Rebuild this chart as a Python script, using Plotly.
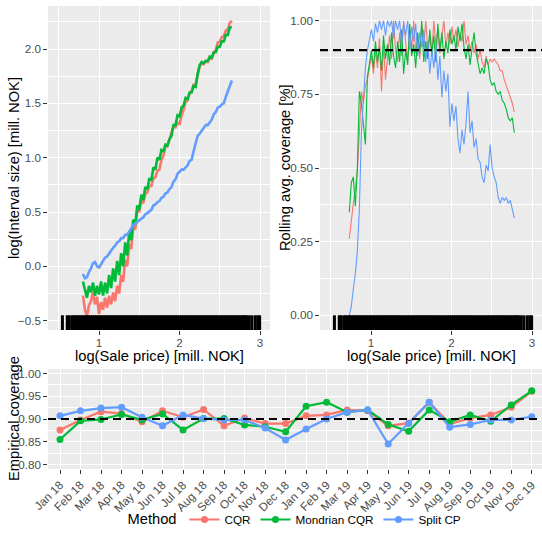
import plotly.graph_objects as go

W, H = 542, 535
FONT = "Liberation Sans, Arial, sans-serif"
METHODS = ["CQR", "Mondrian CQR", "Split CP"]
COLORS = {"CQR": "#F8766D", "Mondrian CQR": "#00BA38", "Split CP": "#619CFF"}
TARGET = 0.9

# ---- Top-left: log(interval size) vs log(sale price)
size_x = [0.800, 0.825, 0.850, 0.875, 0.900, 0.925, 0.950, 0.975, 1.000, 1.025,
          1.050, 1.075, 1.100, 1.125, 1.150, 1.175, 1.200, 1.225, 1.250, 1.275,
          1.300, 1.325, 1.350, 1.375, 1.400, 1.425, 1.450, 1.475, 1.500, 1.525,
          1.550, 1.575, 1.600, 1.625, 1.650, 1.675, 1.700, 1.725, 1.750, 1.775,
          1.800, 1.825, 1.850, 1.875, 1.900, 1.925, 1.950, 1.975, 2.000, 2.025,
          2.050, 2.075, 2.100, 2.125, 2.150, 2.175, 2.200, 2.225, 2.250, 2.275,
          2.300, 2.325, 2.350, 2.375, 2.400, 2.425, 2.450, 2.475, 2.500, 2.525,
          2.550, 2.575, 2.600, 2.625, 2.650]
size_cqr = [-0.27, -0.40, -0.46, -0.36, -0.32, -0.24, -0.35, -0.28, -0.44, -0.33,
            -0.40, -0.29, -0.38, -0.27, -0.35, -0.24, -0.32, -0.18, -0.25, -0.08,
            -0.14, 0.06, 0.00, 0.20, 0.16, 0.36, 0.34, 0.52, 0.50, 0.61,
            0.58, 0.67, 0.68, 0.74, 0.74, 0.81, 0.82, 0.88, 0.89, 0.98,
            1.02, 1.10, 1.11, 1.18, 1.23, 1.29, 1.28, 1.32, 1.31, 1.39,
            1.44, 1.51, 1.53, 1.59, 1.61, 1.67, 1.67, 1.76, 1.84, 1.87,
            1.86, 1.89, 1.88, 1.91, 1.91, 1.96, 1.99, 2.06, 2.07, 2.11,
            2.12, 2.17, 2.18, 2.24, 2.26]
size_mcqr = [-0.14, -0.22, -0.29, -0.18, -0.24, -0.15, -0.27, -0.18, -0.26, -0.14,
             -0.27, -0.15, -0.25, -0.08, -0.20, -0.02, -0.14, 0.05, -0.08, 0.12,
             0.00, 0.22, 0.10, 0.32, 0.24, 0.43, 0.38, 0.56, 0.52, 0.66,
             0.61, 0.73, 0.71, 0.81, 0.79, 0.91, 0.89, 1.00, 0.98, 1.07,
             1.06, 1.12, 1.11, 1.17, 1.20, 1.30, 1.30, 1.39, 1.38, 1.46,
             1.48, 1.55, 1.54, 1.60, 1.60, 1.66, 1.65, 1.77, 1.85, 1.88,
             1.87, 1.89, 1.89, 1.93, 1.92, 1.97, 1.97, 2.02, 2.02, 2.07,
             2.07, 2.13, 2.13, 2.20, 2.20]
size_split = [-0.07, -0.11, -0.10, -0.05, -0.02, 0.03, 0.04, 0.00, -0.01, 0.02,
              0.04, 0.08, 0.09, 0.12, 0.14, 0.17, 0.19, 0.22, 0.23, 0.26,
              0.26, 0.29, 0.29, 0.32, 0.34, 0.38, 0.39, 0.41, 0.42, 0.44,
              0.45, 0.48, 0.49, 0.51, 0.52, 0.56, 0.57, 0.59, 0.60, 0.63,
              0.64, 0.67, 0.68, 0.71, 0.73, 0.78, 0.80, 0.85, 0.87, 0.89,
              0.89, 0.91, 0.93, 0.97, 0.98, 1.06, 1.13, 1.20, 1.22, 1.25,
              1.27, 1.30, 1.30, 1.33, 1.35, 1.40, 1.42, 1.46, 1.47, 1.49,
              1.50, 1.56, 1.61, 1.67, 1.71]

# ---- Top-right: rolling average coverage vs log(sale price)
cov_x = [0.730, 0.755, 0.780, 0.805, 0.830, 0.855, 0.880, 0.905, 0.930, 0.955,
         0.980, 1.005, 1.030, 1.055, 1.080, 1.105, 1.130, 1.155, 1.180, 1.205,
         1.230, 1.255, 1.280, 1.305, 1.330, 1.355, 1.380, 1.405, 1.430, 1.455,
         1.480, 1.505, 1.530, 1.555, 1.580, 1.605, 1.630, 1.655, 1.680, 1.705,
         1.730, 1.755, 1.780, 1.805, 1.830, 1.855, 1.880, 1.905, 1.930, 1.955,
         1.980, 2.005, 2.030, 2.055, 2.080, 2.105, 2.130, 2.155, 2.180, 2.205,
         2.230, 2.255, 2.280, 2.305, 2.330, 2.355, 2.380, 2.405, 2.430, 2.455,
         2.480, 2.505, 2.530, 2.555, 2.580, 2.605, 2.630, 2.655, 2.680, 2.705,
         2.730, 2.755, 2.780]
cov_cqr = [0.26, 0.33, 0.38, 0.43, 0.49, 0.62, 0.76, 0.72, 0.78, 0.80,
           0.84, 0.88, 0.82, 0.90, 0.84, 0.94, 0.76, 0.92, 0.80, 0.88,
           0.95, 0.87, 1.00, 0.90, 0.86, 0.96, 0.88, 1.00, 0.92, 0.86,
           0.97, 0.90, 1.00, 0.89, 0.94, 0.87, 0.98, 0.91, 1.00, 0.90,
           0.95, 0.88, 1.00, 0.92, 0.97, 0.89, 0.95, 1.00, 0.91, 0.96,
           0.92, 0.98, 0.93, 0.97, 0.91, 0.96, 0.93, 1.00, 0.92, 0.95,
           0.90, 0.93, 0.89, 0.92, 0.87, 0.90, 0.86, 0.84, 0.88, 0.85,
           0.87, 0.86, 0.87, 0.86, 0.85, 0.83, 0.83, 0.80, 0.78, 0.76,
           0.74, 0.72, 0.69]
cov_mcqr = [0.35, 0.45, 0.47, 0.37, 0.50, 0.76, 0.72, 0.66, 0.58, 0.81,
            0.86, 0.90, 0.84, 0.93, 0.86, 0.91, 0.83, 0.95, 0.87, 0.92,
            0.85, 0.96, 0.88, 0.84, 0.93, 0.86, 0.97, 0.82, 0.90, 0.85,
            0.99, 0.88, 0.92, 0.84, 0.96, 0.89, 1.00, 0.86, 0.93, 0.87,
            0.97, 0.89, 0.95, 0.86, 0.99, 0.90, 0.96, 0.87, 0.93, 0.89,
            0.97, 0.92, 0.95, 0.90, 0.98, 0.93, 0.99, 0.91, 0.87, 0.92,
            0.85, 0.90, 0.96, 0.89, 0.86, 0.82, 0.84, 0.82, 0.87, 0.85,
            0.80, 0.78, 0.79, 0.76, 0.75, 0.76, 0.73, 0.72, 0.70, 0.67,
            0.66, 0.67, 0.62]
cov_split = [0.00, 0.03, 0.09, 0.14, 0.22, 0.36, 0.62, 0.72, 0.84, 0.90,
             0.94, 0.97, 0.93, 0.99, 0.96, 1.00, 0.97, 1.00, 0.95, 1.00,
             0.98, 1.00, 0.94, 1.00, 0.97, 1.00, 0.92, 0.99, 0.95, 1.00,
             0.90, 0.98, 0.93, 0.99, 0.88, 0.96, 0.91, 0.97, 0.86, 0.93,
             0.82, 0.90, 0.84, 0.92, 0.80, 0.88, 0.74, 0.83, 0.76, 0.82,
             0.64, 0.72, 0.66, 0.71, 0.60, 0.55, 0.63, 0.58, 0.65, 0.76,
             0.62, 0.66, 0.57, 0.60, 0.53, 0.52, 0.47, 0.45, 0.51, 0.49,
             0.58, 0.50, 0.47, 0.45, 0.40, 0.38, 0.40, 0.39, 0.40, 0.38,
             0.39, 0.36, 0.33]

# ---- Rug: observed log(sale price) values
sale_price = [0.545, 0.605, 0.625, 0.660, 0.683, 0.707, 0.731, 0.752, 0.776, 0.800,
              0.823, 0.847, 0.871, 0.894, 0.918, 0.941, 0.965, 0.988, 1.012, 1.035,
              1.059, 1.082, 1.106, 1.129, 1.153, 1.176, 1.200, 1.224, 1.247, 1.271,
              1.294, 1.318, 1.341, 1.365, 1.388, 1.412, 1.435, 1.459, 1.482, 1.506,
              1.529, 1.553, 1.576, 1.600, 1.624, 1.647, 1.671, 1.694, 1.718, 1.741,
              1.765, 1.788, 1.812, 1.835, 1.859, 1.882, 1.906, 1.929, 1.953, 1.976,
              2.000, 2.024, 2.047, 2.071, 2.094, 2.118, 2.141, 2.165, 2.188, 2.212,
              2.235, 2.259, 2.282, 2.306, 2.329, 2.353, 2.376, 2.400, 2.424, 2.447,
              2.471, 2.494, 2.518, 2.541, 2.565, 2.588, 2.612, 2.635, 2.659, 2.682,
              2.706, 2.729, 2.753, 2.776, 2.792, 2.814, 2.835, 2.863, 2.897, 2.938,
              2.971, 2.995]

# ---- Bottom: monthly empirical coverage
months = ["Jan 18", "Feb 18", "Mar 18", "Apr 18", "May 18", "Jun 18", "Jul 18", "Aug 18",
          "Sep 18", "Oct 18", "Nov 18", "Dec 18", "Jan 19", "Feb 19", "Mar 19", "Apr 19",
          "May 19", "Jun 19", "Jul 19", "Aug 19", "Sep 19", "Oct 19", "Nov 19", "Dec 19"]
emp_cqr = [0.876, 0.898, 0.916, 0.912, 0.894, 0.918, 0.904, 0.921, 0.885, 0.902, 0.890, 0.890,
           0.907, 0.909, 0.920, 0.918, 0.885, 0.891, 0.937, 0.889, 0.902, 0.909, 0.926, 0.961]
emp_mcqr = [0.855, 0.896, 0.899, 0.910, 0.898, 0.911, 0.876, 0.901, 0.901, 0.887, 0.883, 0.872,
            0.928, 0.937, 0.915, 0.920, 0.888, 0.873, 0.920, 0.894, 0.909, 0.895, 0.931, 0.962]
emp_split = [0.907, 0.918, 0.924, 0.926, 0.904, 0.885, 0.909, 0.901, 0.898, 0.898, 0.880, 0.854,
             0.878, 0.900, 0.915, 0.920, 0.845, 0.890, 0.937, 0.882, 0.888, 0.898, 0.898, 0.905]

size_series = {"CQR": size_cqr, "Mondrian CQR": size_mcqr, "Split CP": size_split}
cov_series = {"CQR": cov_cqr, "Mondrian CQR": cov_mcqr, "Split CP": cov_split}
emp_series = {"CQR": emp_cqr, "Mondrian CQR": emp_mcqr, "Split CP": emp_split}


def dx(a, b):
    return [a / W, b / W]


def dy(top, bottom):
    return [1 - bottom / H, 1 - top / H]


fig = go.Figure()

for m in METHODS:
    fig.add_trace(go.Scatter(x=size_x, y=size_series[m], mode="lines", name=m,
                             line=dict(color=COLORS[m], width=2.6), showlegend=False,
                             xaxis="x", yaxis="y"))
for m in METHODS:
    fig.add_trace(go.Scatter(x=cov_x, y=cov_series[m], mode="lines", name=m,
                             line=dict(color=COLORS[m], width=1.1), showlegend=False,
                             xaxis="x2", yaxis="y2"))
for xa, ya in (("x", "y4"), ("x2", "y5")):
    fig.add_trace(go.Scatter(x=sale_price, y=[0] * len(sale_price), mode="markers",
                             marker=dict(symbol="line-ns", size=21,
                                         line=dict(color="black", width=3)),
                             showlegend=False, hoverinfo="skip", xaxis=xa, yaxis=ya))
for m in METHODS:
    fig.add_trace(go.Scatter(x=months, y=emp_series[m], mode="lines+markers", name=m,
                             line=dict(color=COLORS[m], width=2.2),
                             marker=dict(color=COLORS[m], size=7),
                             xaxis="x3", yaxis="y3"))

fig.add_shape(type="line", xref="x2 domain", x0=0, x1=1, yref="y2", y0=TARGET, y1=TARGET,
              line=dict(color="black", width=2.2, dash="8px,5px"))
fig.add_shape(type="line", xref="x3 domain", x0=0, x1=1, yref="y3", y0=TARGET, y1=TARGET,
              line=dict(color="black", width=2.2, dash="8px,5px"))

tickstyle = dict(ticks="outside", ticklen=3.7, tickwidth=1.07, tickcolor="#333333",
                 tickfont=dict(size=11.7, color="#4D4D4D", family=FONT),
                 showline=False, zeroline=False, showgrid=True, gridcolor="white",
                 gridwidth=1.1, automargin=False)


def minor(d):
    return dict(tick0=0, dtick=d, showgrid=True, gridcolor="white", gridwidth=0.55, ticks="")


xr = [0.366, 3.124]
fig.update_layout(
    width=W, height=H, margin=dict(l=0, r=0, t=0, b=0),
    paper_bgcolor="white", plot_bgcolor="#EBEBEB",
    font=dict(family=FONT, color="black"),
    xaxis=dict(domain=dx(48, 270), range=xr, tickvals=[1, 2, 3], ticktext=["1", "2", "3"],
               minor=minor(0.5), anchor="y", ticklabelstandoff=-2, **tickstyle),
    yaxis=dict(domain=dy(6, 330), range=[-0.586, 2.396],
               tickvals=[-0.5, 0, 0.5, 1, 1.5, 2],
               ticktext=["\u22120.5", "0.0", "0.5", "1.0", "1.5", "2.0"],
               minor=minor(0.25), anchor="x", **tickstyle),
    xaxis2=dict(domain=dx(320, 542), range=xr, tickvals=[1, 2, 3], ticktext=["1", "2", "3"],
                minor=minor(0.5), anchor="y2", ticklabelstandoff=-2, **tickstyle),
    yaxis2=dict(domain=dy(6, 330), range=[-0.05, 1.05],
                tickvals=[0, 0.25, 0.5, 0.75, 1.0],
                ticktext=["0.00", "0.25", "0.50", "0.75", "1.00"],
                minor=minor(0.125), anchor="x2", **tickstyle),
    xaxis3=dict(domain=dx(48, 542), type="category", categoryorder="array",
                categoryarray=months, range=[-0.585, 23.5], tickangle=-45,
                anchor="y3", **tickstyle),
    yaxis3=dict(domain=dy(369, 469), range=[0.79, 1.01],
                tickvals=[0.80, 0.85, 0.90, 0.95, 1.00],
                ticktext=["0.80", "0.85", "0.90", "0.95", "1.00"],
                minor=minor(0.025), anchor="x3", **tickstyle),
    yaxis4=dict(overlaying="y", range=[0, 1], visible=False, anchor="x"),
    yaxis5=dict(overlaying="y2", range=[0, 1], visible=False, anchor="x2"),
    legend=dict(orientation="h", x=296 / W, xanchor="center", y=0, yanchor="bottom",
                title=dict(text="Method", font=dict(size=14.7, color="black"), side="left"),
                font=dict(size=11.7, color="black"), bgcolor="rgba(0,0,0,0)",
                itemwidth=30),
)

titles = [
    ("log(Interval size) [mill. NOK]", 14, 168, -90),
    ("log(Sale price) [mill. NOK]", 159, 356, 0),
    ("Rolling avg. coverage [%]", 285, 168, -90),
    ("log(Sale price) [mill. NOK]", 431, 356, 0),
    ("Empirical coverage", 14, 419, -90),
]
for text, px, py, ang in titles:
    fig.add_annotation(text=text, x=px / W, y=1 - py / H, xref="paper", yref="paper",
                       xanchor="center", yanchor="middle", showarrow=False, textangle=ang,
                       font=dict(size=14.7, color="black", family=FONT))

pin_page = (
    "document.documentElement.style.margin='0px';"
    "document.body.style.margin='0px';"
    "document.documentElement.style.overflow='hidden';"
    "document.body.style.overflow='hidden';"
    "var gd=document.getElementById('{plot_id}');"
    "gd.style.position='fixed';gd.style.left='0px';gd.style.top='0px';"
)
fig.write_html("out.html", config={"displayModeBar": False}, post_script=pin_page)
